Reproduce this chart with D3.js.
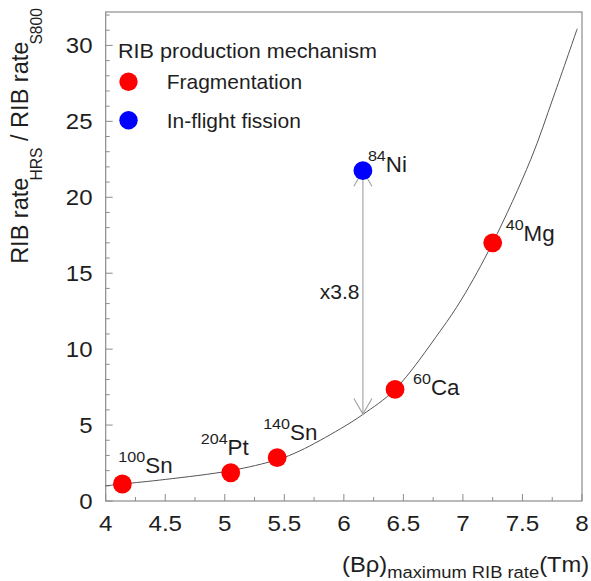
<!DOCTYPE html>
<html>
<head>
<meta charset="utf-8">
<script src="https://cdn.jsdelivr.net/npm/d3@7"></script>
<style>
  html, body { margin: 0; padding: 0; background: #fff; }
  svg { display: block; font-family: "Liberation Sans", Arial, Helvetica, sans-serif; }
</style>
</head>
<body>
<svg id="chart" width="591" height="581"></svg>
<script>
// ---- Data ---------------------------------------------------------------
// Isotopes: mass number, element, magnetic rigidity of max rate (Tm), rate ratio HRS/S800
const massNumbers = ["100", "204", "140", "60", "40", "84"];
const elements    = ["Sn", "Pt", "Sn", "Ca", "Mg", "Ni"];
const brho        = [4.14, 5.05, 5.44, 6.43, 7.25, 6.16];
const rateRatio   = [1.12, 1.86, 2.85, 7.35, 17.0, 21.75];
const mechanism   = ["Fragmentation", "Fragmentation", "Fragmentation",
                     "Fragmentation", "Fragmentation", "In-flight fission"];

// Legend entries
const mechanisms      = ["Fragmentation", "In-flight fission"];
const mechanismColors = ["#ff0000", "#0000ff"];

// Trend curve through the fragmentation systematics
const fitBrho  = [4.00, 4.14, 4.50, 5.05, 5.44, 5.63, 5.97, 6.16, 6.43, 6.81, 6.99, 7.25, 7.57, 7.76, 7.96];
const fitRatio = [1.00, 1.12, 1.42, 2.00, 2.72, 3.30, 4.75, 5.70, 7.35, 11.2, 13.3, 17.0, 22.5, 26.6, 31.1];

// Gain of in-flight fission over the trend for 84Ni
const fissionGain = 3.8;

// Axis ticks
const xTickValues = [4, 4.5, 5, 5.5, 6, 6.5, 7, 7.5, 8];
const yTickValues = [0, 5, 10, 15, 20, 25, 30];

// ---- Layout -------------------------------------------------------------
const svg = d3.select("#chart");
const plot = { left: 105.7, right: 582, top: 12, bottom: 501 };

const x = d3.scaleLinear().domain([4, 8]).range([plot.left, plot.right]);
const y = d3.scaleLinear().domain([0, 32.2]).range([plot.bottom, plot.top]);

const frameColor = "#8c8c8c";
const textColor = "#1e1e1e";

// Text helper: places a (possibly multi-part) label with a horizontal stretch
function label(parent, px, py, parts, opts = {}) {
  const t = parent.append("text")
    .attr("transform", `translate(${px},${py}) ${opts.rotate ? `rotate(${opts.rotate})` : ""} scale(${opts.sx || 1},1)`)
    .attr("text-anchor", opts.anchor || "start")
    .attr("fill", opts.fill || textColor);
  parts.forEach(p => {
    t.append("tspan")
      .attr("font-size", p.size)
      .attr("dx", p.dx || 0)
      .attr("dy", p.dy || 0)
      .text(p.text);
  });
  return t;
}

// ---- Frame --------------------------------------------------------------
svg.append("rect")
  .attr("x", plot.left).attr("y", plot.top)
  .attr("width", plot.right - plot.left).attr("height", plot.bottom - plot.top)
  .attr("fill", "none").attr("stroke", frameColor).attr("stroke-width", 1.2);

// Inward ticks built from the scales
const xMinor = d3.range(4, 8.001, 0.25);
const yMinor = d3.range(0, 32.01, 1);

const ticks = svg.append("g").attr("stroke", frameColor).attr("stroke-width", 1);
ticks.selectAll(".xt").data(xMinor).join("line")
  .attr("x1", d => x(d)).attr("x2", d => x(d))
  .attr("y1", plot.bottom)
  .attr("y2", d => plot.bottom - (Math.abs(d * 2 - Math.round(d * 2)) < 1e-6 ? 7 : 4));
ticks.selectAll(".yt").data(yMinor).join("line")
  .attr("y1", d => y(d)).attr("y2", d => y(d))
  .attr("x1", plot.left)
  .attr("x2", d => plot.left + (d % 5 === 0 ? 7 : 4));

// Tick labels
xTickValues.forEach(v => {
  label(svg, x(v), 530.5, [{ text: String(v), size: 22 }], { anchor: "middle", sx: 1.1 });
});
yTickValues.forEach(v => {
  label(svg, 92.5, y(v) + 8, [{ text: String(v), size: 22 }], { anchor: "end", sx: 1.09 });
});

// Axis titles
label(svg, 342, 572, [
  { text: "(B\u03C1)", size: 22 },
  { text: "maximum RIB rate", size: 17, dy: 6 },
  { text: "(Tm)", size: 22, dy: -6 }
], { sx: 1.08 });

label(svg, 28, 8, [
  { text: "RIB rate", size: 24 },
  { text: "HRS", size: 16, dx: -3, dy: 14 },
  { text: " / RIB rate", size: 24, dy: -14 },
  { text: "S800", size: 16, dx: -3, dy: 14 }
], { anchor: "end", rotate: -90, sx: 0.98 });

// ---- Trend curve --------------------------------------------------------
const fitPoints = fitBrho.map((b, i) => [b, fitRatio[i]]);
svg.append("path")
  .datum(fitPoints)
  .attr("fill", "none")
  .attr("stroke", "#555")
  .attr("stroke-width", 1)
  .attr("d", d3.line().x(d => x(d[0])).y(d => y(d[1])).curve(d3.curveCatmullRom.alpha(0.5)));

// ---- Gain arrow (84Ni fission vs trend) ----------------------------------
const niIndex = elements.indexOf("Ni");
const arrowX = x(brho[niIndex]);
const arrowTop = y(rateRatio[niIndex]);
const arrowBottom = y(rateRatio[niIndex] / fissionGain);
const arrowG = svg.append("g").attr("stroke", "#a0a0a0").attr("stroke-width", 1.1).attr("fill", "none");
arrowG.append("line").attr("x1", arrowX).attr("x2", arrowX).attr("y1", arrowTop).attr("y2", arrowBottom);
arrowG.append("path").attr("d", `M${arrowX - 9},${arrowBottom - 15.5}L${arrowX},${arrowBottom}L${arrowX + 9},${arrowBottom - 15.5}`);
arrowG.append("path").attr("d", `M${arrowX - 9},${arrowTop + 15.5}L${arrowX},${arrowTop}L${arrowX + 9},${arrowTop + 15.5}`);
label(svg, arrowX - 3.5, (arrowTop + arrowBottom) / 2 + 7, [{ text: "x" + fissionGain.toFixed(1), size: 20 }],
  { anchor: "end", sx: 1.05 });

// ---- Points -------------------------------------------------------------
const colorOf = m => mechanismColors[mechanisms.indexOf(m)];
svg.append("g").selectAll("circle").data(brho).join("circle")
  .attr("cx", d => x(d))
  .attr("cy", (d, i) => y(rateRatio[i]))
  .attr("r", 9.4)
  .attr("fill", (d, i) => colorOf(mechanism[i]));

// Isotope labels (offsets from each point)
const labelDx = [-4, -30, -14, 18, 13, 5];
const labelDy = [-11, -18, -18, 6, -2, 1];
brho.forEach((b, i) => {
  label(svg, x(b) + labelDx[i], y(rateRatio[i]) + labelDy[i], [
    { text: massNumbers[i], size: 15.5, dy: -11 },
    { text: elements[i], size: 21.5, dy: 11 }
  ], { sx: 1.04 });
});

// ---- Legend -------------------------------------------------------------
label(svg, 118, 58, [{ text: "RIB production mechanism", size: 20 }], { sx: 1.08 });
mechanisms.forEach((m, i) => {
  const cy = 81.7 + i * 38.5;
  svg.append("circle").attr("cx", 128.5).attr("cy", cy).attr("r", 9.2).attr("fill", mechanismColors[i]);
  label(svg, 166.7, cy + 7.5, [{ text: m, size: 20 }], { sx: 1.05 });
});
</script>
</body>
</html>
